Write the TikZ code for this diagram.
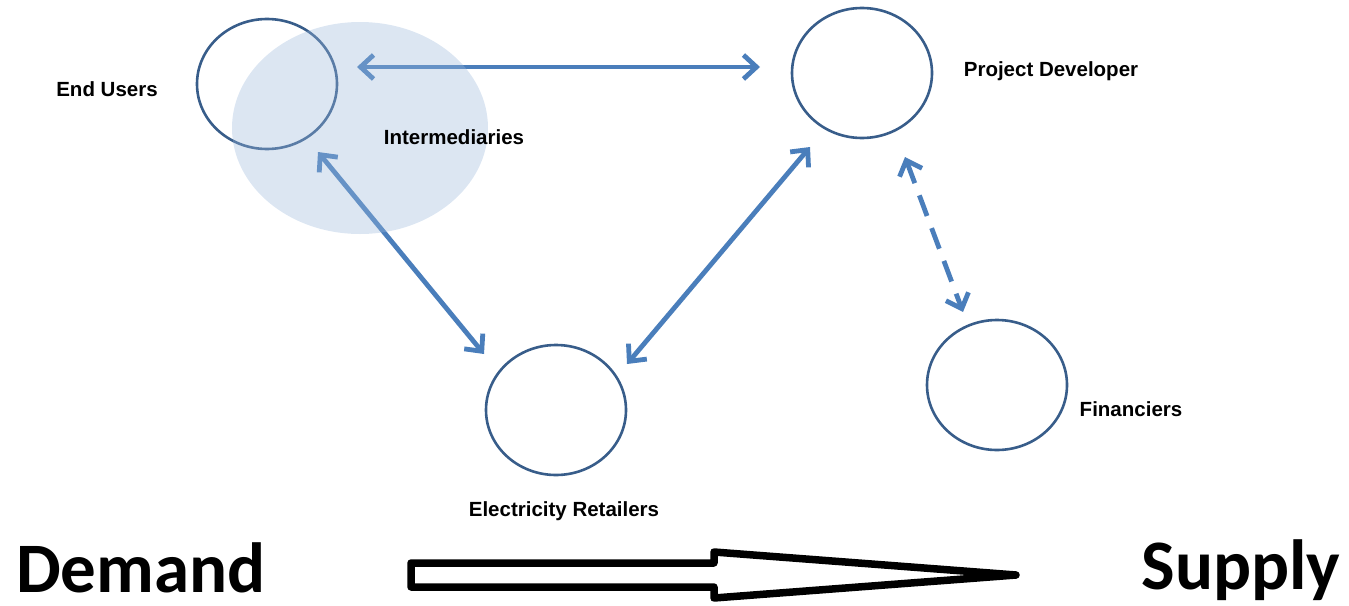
\documentclass[tikz,border=0pt]{standalone}
\usepackage{fontspec}
\setmainfont{Liberation Sans}
\newfontfamily\calib{Carlito}
\usetikzlibrary{arrows.meta,shapes.geometric}
\definecolor{ringblue}{RGB}{56,93,138}
\definecolor{arrowblue}{RGB}{74,126,187}
\definecolor{interfill}{RGB}{155,184,219}
\tikzset{
  ring/.style={draw=ringblue,line width=2.6pt,ellipse,minimum width=140pt,minimum height=130pt,inner sep=0pt},
  conn/.style={draw=arrowblue,line width=4.8pt,{Straight Barb[length=13pt,width=24pt]}-{Straight Barb[length=13pt,width=24pt]}},
  dconn/.style={conn,dash pattern=on 22pt off 13pt},
  lbl/.style={font=\bfseries\fontsize{20.5}{24}\selectfont,anchor=base,inner sep=0pt},
  big/.style={font=\calib\bfseries\fontsize{71}{80}\selectfont,anchor=base,inner sep=0pt},
}
\begin{document}
\begin{tikzpicture}[x=1pt,y=-1pt]
\useasboundingbox (0,0) rectangle (1349,605);
% circles
\node[ring] (eu) at (267,84) {};
\node[ring] (pd) at (862,73) {};
\node[ring] (er) at (556,410) {};
\node[ring] (fi) at (997,385) {};
% connector ends
\coordinate (euA) at (357,67);
\coordinate (pdA) at (760,67);
\coordinate (euB) at (318,152);
\coordinate (erB) at (484,354);
\coordinate (erC) at (627,364);
\coordinate (pdC) at (810,147);
\coordinate (pdD) at (905,157);
\coordinate (fiD) at (963,312);
\draw[conn] (euA) -- (pdA);
\draw[conn] (euB) -- (erB);
\draw[conn] (erC) -- (pdC);
\draw[dconn] (pdD) -- (fiD);
% intermediaries overlay
\node[ellipse,fill=interfill,fill opacity=0.35,minimum width=256pt,minimum height=212pt,inner sep=0pt] (im) at (360,128) {};
% labels
\node[lbl] (euL) at (107,96) {End Users};
\node[lbl] (imL) at (454,144) {Intermediaries};
\node[lbl] (pdL) at (1051,76) {Project Developer};
\node[lbl] (erL) at (564,516) {Electricity Retailers};
\node[lbl] (fiL) at (1131,416) {Financiers};
\node[big] (dem) at (141,592) {Demand};
\node[big] (sup) at (1241,589) {Supply};
% big arrow
\draw[line width=7.5pt,line join=round,fill=white] (411,563) -- (714,563) -- (714,552) -- (1016,575) -- (714,598) -- (714,587) -- (411,587) -- cycle;
\end{tikzpicture}
\end{document}
